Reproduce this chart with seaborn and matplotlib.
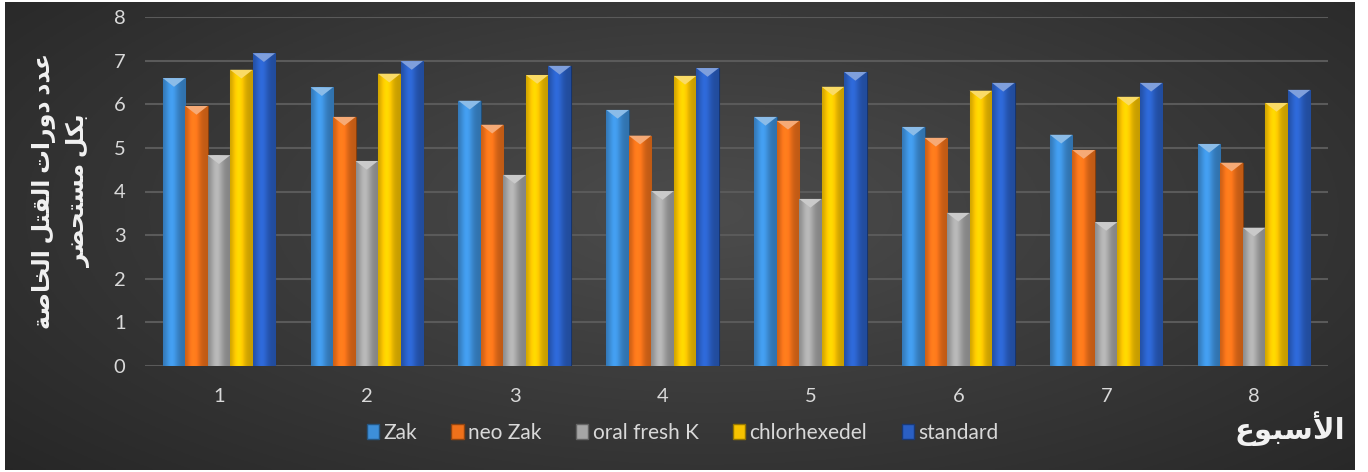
import numpy as np
import pandas as pd
import matplotlib
matplotlib.use('Agg')
import matplotlib.pyplot as plt
import matplotlib.colors as mcolors
from matplotlib.patches import Polygon
import seaborn as sns

weeks = ['1', '2', '3', '4', '5', '6', '7', '8']
series_names = ['Zak', 'neo Zak', 'oral fresh K', 'chlorhexedel', 'standard']
zak = [6.60, 6.39, 6.08, 5.87, 5.71, 5.48, 5.30, 5.09]
neo_zak = [5.96, 5.71, 5.53, 5.28, 5.62, 5.23, 4.95, 4.66]
oral_fresh = [4.83, 4.70, 4.38, 4.01, 3.83, 3.51, 3.30, 3.17]
chlorhexedel = [6.79, 6.70, 6.67, 6.65, 6.40, 6.31, 6.17, 6.03]
standard = [7.17, 6.99, 6.88, 6.83, 6.74, 6.49, 6.49, 6.33]
colors = ['#3d8fd9', '#f0711a', '#a6a6a6', '#f7c300', '#2a5fc4']

y_label_lines = ['عدد دورات القتل الخاصة', 'بكل مستحضر']
x_label = 'الأسبوع'

# matplotlib has no arabic shaping, so map letters to presentation forms by hand
DUAL = {'ب': 0xFE8F, 'ت': 0xFE95, 'ح': 0xFEA1, 'خ': 0xFEA5, 'س': 0xFEB1, 'ص': 0xFEB9,
        'ض': 0xFEBD, 'ع': 0xFEC9, 'ق': 0xFED5, 'ك': 0xFED9, 'ل': 0xFEDD, 'م': 0xFEE1}
RIGHT = {'ا': 0xFE8D, 'أ': 0xFE83, 'ة': 0xFE93, 'د': 0xFEA9, 'ر': 0xFEAD, 'و': 0xFEED}
LAM_ALEF = {'ا': 0xFEFB, 'أ': 0xFEF7}


def shape(text):
    words = []
    for word in text.split(' '):
        s = ''
        i = 0
        n = len(word)
        prev_joins = False
        while i < n:
            c = word[i]
            if c == 'ل' and i + 1 < n and word[i + 1] in LAM_ALEF:
                s += chr(LAM_ALEF[word[i + 1]] + (1 if prev_joins else 0))
                prev_joins = False
                i += 2
                continue
            nxt = i + 1 < n and (word[i + 1] in DUAL or word[i + 1] in RIGHT)
            if c in DUAL:
                if prev_joins and nxt:
                    form = 3
                elif prev_joins:
                    form = 1
                elif nxt:
                    form = 2
                else:
                    form = 0
                s += chr(DUAL[c] + form)
                prev_joins = nxt
            elif c in RIGHT:
                s += chr(RIGHT[c] + (1 if prev_joins else 0))
                prev_joins = False
            else:
                s += c
                prev_joins = False
            i += 1
        words.append(s)
    return ' '.join(words)[::-1]


rows = []
for name, vals in zip(series_names, [zak, neo_zak, oral_fresh, chlorhexedel, standard]):
    for w, v in zip(weeks, vals):
        rows.append({'week': w, 'series': name, 'value': v})
df = pd.DataFrame(rows)

sns.set_style('white')
plt.rcParams['font.family'] = ['Lato', 'DejaVu Sans']

fig = plt.figure(figsize=(13.68, 4.72), dpi=100, facecolor='white')

# dark radial background
bg = fig.add_axes([5 / 1368, 2 / 472, 1350 / 1368, 468 / 472], zorder=-5)
yy, xx = np.mgrid[0:1:200j, 0:1:600j]
d = np.sqrt(((xx - 0.52) / 0.75) ** 2 + ((yy - 0.45) / 0.9) ** 2)
shade = np.clip(0.30 - 0.16 * d, 0.12, 0.30)
bg.imshow(np.dstack([shade] * 3), aspect='auto', extent=[0, 1, 0, 1])
bg.axis('off')

ax = fig.add_axes([145 / 1368, 106 / 472, 1183 / 1368, 349 / 472])
ax.set_facecolor('none')
sns.barplot(data=df, x='week', y='value', hue='series', hue_order=series_names,
            palette=colors, width=0.76, gap=0, saturation=1, ax=ax, zorder=3)

handles, labels = ax.get_legend_handles_labels()
ax.get_legend().remove()

# cylinder-ish shading and bevel on each bar
prof = np.linspace(0, 1, 64)
factor = 0.80 + 0.32 * np.exp(-((prof - 0.38) / 0.28) ** 2)
for patch in list(ax.patches):
    x, y0 = patch.get_x(), patch.get_y()
    w, h = patch.get_width(), patch.get_height()
    if h <= 0:
        continue
    base = np.array(mcolors.to_rgb(patch.get_facecolor()))
    img = np.clip(base[None, None, :] * factor[None, :, None], 0, 1)
    im = ax.imshow(img, extent=[x, x + w, y0, y0 + h], aspect='auto', zorder=3.5)
    im.set_clip_path(patch)
    light = np.clip(base * 0.6 + 0.4, 0, 1)
    tri = Polygon([(x, y0 + h), (x + w, y0 + h), (x + w / 2, y0 + h - 0.2)],
                  closed=True, facecolor=light, edgecolor='none', zorder=4)
    ax.add_patch(tri)
    patch.set_edgecolor(np.clip(base * 0.55, 0, 1))
    patch.set_linewidth(0.8)

ax.set_xlim(-0.5, 7.5)
ax.set_ylim(0, 8)
ax.set_yticks(range(0, 9))
ax.yaxis.grid(True, color='#5a5a5a', linewidth=1.5, zorder=0)
ax.set_axisbelow(True)
for s in ax.spines.values():
    s.set_visible(False)
ax.tick_params(axis='both', length=0, colors='#d9d9d9', labelsize=14.5)
ax.tick_params(axis='x', pad=16)
ax.tick_params(axis='y', pad=14)
ax.set_xlabel('')
ax.set_ylabel('')

for hnd in handles:
    hnd.set_edgecolor(np.clip(np.array(mcolors.to_rgb(hnd.get_facecolor())) * 0.6, 0, 1))
fig.legend(handles, labels, loc='center', bbox_to_anchor=(0.499, 0.083), ncol=5,
           frameon=False, labelcolor='#d9d9d9', fontsize=15, handlelength=0.6,
           handleheight=0.75, handletextpad=0.2, columnspacing=1.65)

fig.text(0.045, 0.595, shape(y_label_lines[0]) + '\n' + shape(y_label_lines[1]),
         rotation=90, ha='center', va='center', multialignment='center',
         color='#f2f2f2', fontsize=17, fontweight='bold', linespacing=1.5)
fig.text(0.983, 0.093, shape(x_label), ha='right', va='center',
         color='#f2f2f2', fontsize=21, fontweight='bold')

fig.savefig('out.png', dpi=100, facecolor='white')
